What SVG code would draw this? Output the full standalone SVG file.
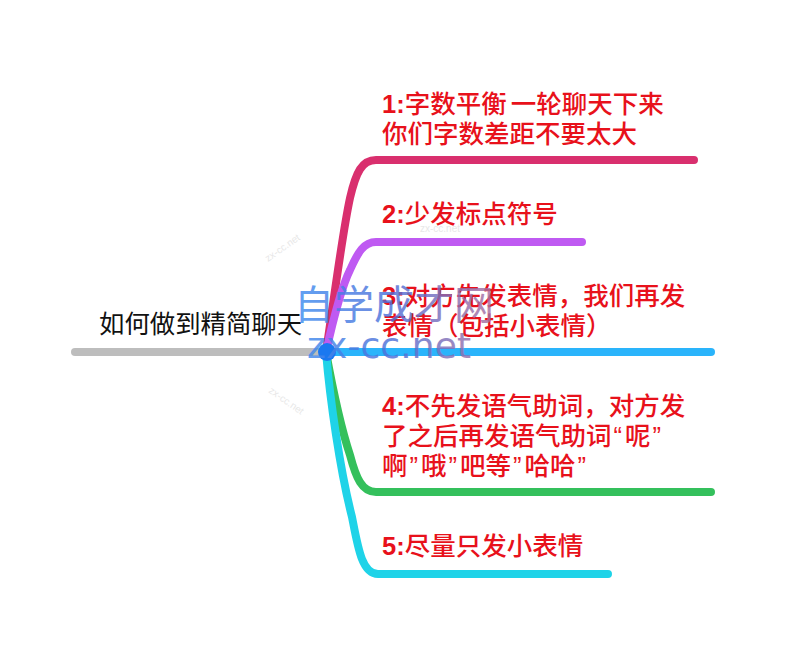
<svg xmlns="http://www.w3.org/2000/svg" width="789" height="646" viewBox="0 0 789 646">
<style>
text{font-family:"Liberation Sans","Noto Sans CJK SC",sans-serif}
.l{fill:none;stroke-width:8;stroke-linecap:round;stroke-linejoin:round}
.t{font-size:25.5px;font-weight:500;fill:#e8111b}
.b{font-weight:700}
.r{font-size:25.4px;fill:#111}
.w{fill:url(#wg);opacity:.82}
.s{font-size:10px;fill:#ccc;opacity:.45}
</style>
<defs><linearGradient id="wg" gradientUnits="userSpaceOnUse" x1="296" y1="0" x2="490" y2="0"><stop offset="0" stop-color="#3f8df0"/><stop offset=".5" stop-color="#4f6fd8"/><stop offset="1" stop-color="#a8709f"/></linearGradient></defs>
<rect width="789" height="646" fill="#fff"/>
<g id="connectors">
<path class="l" stroke="#bdbdbd" d="M75 352H326"/>
<path class="l" stroke="#34c05c" d="M326 352C332 385 340 425 350 455C356 478 362 492 376 492H711"/>
<path class="l" stroke="#1fd3e8" d="M326 352C330 400 340 470 352 517C358 548 362 574 378 574H608"/>
<path class="l" stroke="#d92f6e" d="M326 352C334 300 342 235 350 198C356 172 362 160 376 160H694"/>
<path class="l" stroke="#bf5af2" d="M326 352C332 325 340 290 350 270C358 252 364 242 376 242H582"/>
<path class="l" stroke="#2ab4fb" d="M326 352H711"/>
<circle cx="327" cy="352" r="9" fill="#1a78f0"/>
</g>
<g id="root"><text class="r" x="99" y="333">如何做到精简聊天</text></g>
<g id="n1"><text class="t" x="382" y="113" word-spacing="-3"><tspan class="b">1:</tspan>字数平衡 一轮聊天下来</text><text class="t" x="382" y="143">你们字数差距不要太大</text></g>
<g id="n2"><text class="t" x="382" y="223"><tspan class="b">2:</tspan>少发标点符号</text></g>
<g id="n3"><text class="t" x="382" y="305"><tspan class="b">3:</tspan>对方先发表情，我们再发</text><text class="t" x="382" y="335">表情（包括小表情）</text></g>
<g id="n4"><text class="t" x="382" y="415"><tspan class="b">4:</tspan>不先发语气助词，对方发</text><text class="t" x="382" y="445">了之后再发语气助词<tspan dx="2">“</tspan><tspan dx="3">呢</tspan><tspan dx="2">”</tspan></text><text class="t" x="382" y="475">啊<tspan dx="2">”</tspan><tspan dx="3">哦</tspan><tspan dx="2">”</tspan><tspan dx="3">吧等</tspan><tspan dx="2">”</tspan><tspan dx="3">哈哈</tspan><tspan dx="2">”</tspan></text></g>
<g id="n5"><text class="t" x="382" y="555"><tspan class="b">5:</tspan>尽量只发小表情</text></g>
<g id="watermark">
<text class="w" x="294" y="319" font-size="40" style="font-family:'Noto Sans CJK SC',sans-serif">自学成才网</text>
<text class="w" x="307" y="358" font-size="36" style="font-family:'DejaVu Sans',sans-serif" textLength="164">zx-cc.net</text>
<text class="s" x="268" y="262" transform="rotate(-35 268 262)">zx-cc.net</text>
<text class="s" x="420" y="232">zx-cc.net</text>
<text class="s" x="268" y="392" transform="rotate(35 268 392)">zx-cc.net</text>
</g>
</svg>
